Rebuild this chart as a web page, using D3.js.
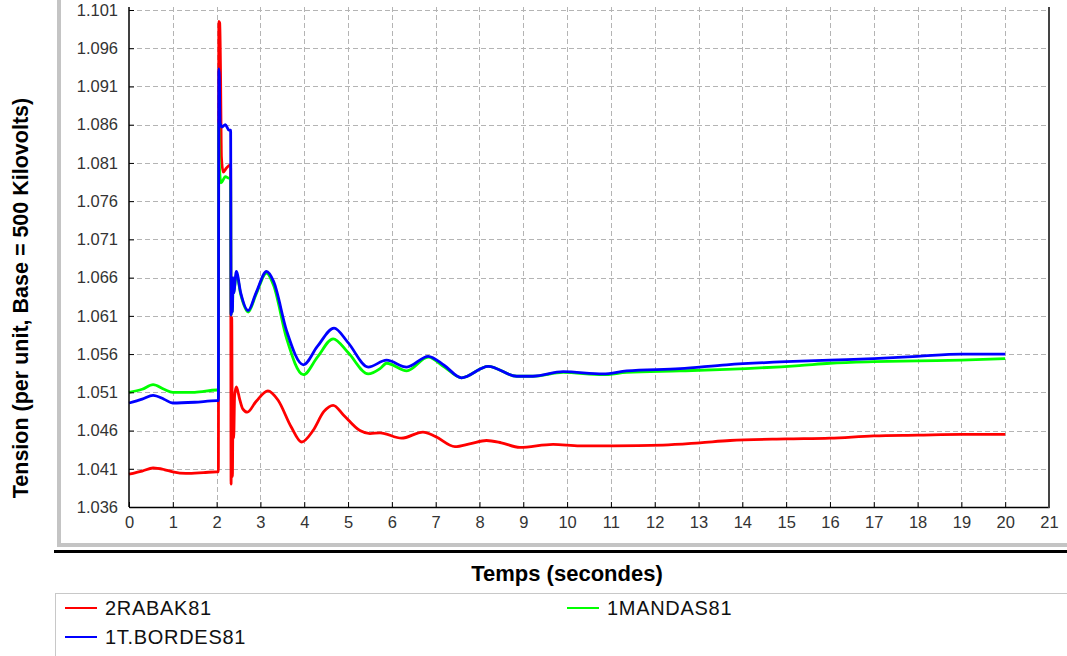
<!DOCTYPE html>
<html>
<head>
<meta charset="utf-8">
<script src="https://cdn.jsdelivr.net/npm/d3@7"></script>
<style>
  html, body { margin: 0; padding: 0; background: #fff; }
  svg { display: block; }
  text { font-family: "Liberation Sans", Arial, sans-serif; }
</style>
</head>
<body>
<svg id="chart" width="1067" height="656"></svg>
<script>
// ---------- data ----------
const xTicks = [0,1,2,3,4,5,6,7,8,9,10,11,12,13,14,15,16,17,18,19,20,21];
const yTicks = [1.036,1.041,1.046,1.051,1.056,1.061,1.066,1.071,1.076,1.081,1.086,1.091,1.096,1.101];

const rabakT = [0,0.3,0.55,0.8,1.0,1.3,1.7,2.0,2.04,2.05,2.07,2.09,2.1,2.11,2.15,2.22,2.3,2.32,2.33,2.345,2.36,2.375,2.39,2.41,2.45,2.53,2.6,2.7,2.9,3.17,3.4,3.7,3.94,4.2,4.45,4.66,4.9,5.27,5.5,5.73,6.22,6.71,7.0,7.44,7.8,8.16,8.5,8.92,9.68,10.29,11.05,12.19,13.03,13.72,15,16,17,18,19,20];
const rabakV = [1.0403,1.0407,1.0411,1.0409,1.0406,1.0404,1.0405,1.0406,1.0406,1.0995,1.0993,1.0925,1.0862,1.0818,1.0798,1.0803,1.0807,1.0807,1.0390,1.0608,1.0400,1.0500,1.0450,1.0505,1.0517,1.0500,1.0488,1.0484,1.0498,1.0512,1.0500,1.0465,1.0445,1.0460,1.0485,1.0493,1.0480,1.0460,1.0456,1.0457,1.0450,1.0458,1.0452,1.0439,1.0443,1.0447,1.0444,1.0438,1.0442,1.0440,1.0440,1.0441,1.0444,1.0447,1.0449,1.0450,1.0453,1.0454,1.0455,1.0455];

const bordesT = [0,0.3,0.55,0.8,1.0,1.5,2.0,2.04,2.05,2.06,2.08,2.12,2.2,2.28,2.32,2.33,2.345,2.36,2.375,2.39,2.45,2.55,2.72,2.9,3.14,3.3,3.6,3.98,4.3,4.68,5.0,5.46,5.88,6.34,6.83,7.2,7.59,8.2,8.85,9.22,9.91,10.82,11.36,12.58,13.64,15,16,17,18,19,20];
const bordesV = [1.0496,1.0501,1.0506,1.0501,1.0496,1.0497,1.0499,1.0499,1.0933,1.0925,1.0862,1.0857,1.0860,1.0853,1.0853,1.0611,1.0660,1.0615,1.0660,1.0640,1.0668,1.0640,1.0617,1.0640,1.0668,1.0655,1.0590,1.0546,1.0570,1.0594,1.0575,1.0543,1.0552,1.0543,1.0557,1.0545,1.0529,1.0544,1.0531,1.0531,1.0537,1.0534,1.0538,1.0541,1.0546,1.0550,1.0552,1.0554,1.0557,1.0560,1.0560];

const mandasT = [0,0.3,0.55,0.8,1.0,1.5,2.0,2.04,2.05,2.06,2.1,2.2,2.28,2.32,2.33,2.345,2.36,2.375,2.39,2.45,2.55,2.72,2.9,3.14,3.3,3.6,3.98,4.3,4.66,5.0,5.46,5.73,5.88,6.34,6.83,7.2,7.59,8.2,8.85,9.22,9.91,10.82,11.36,12.58,13.64,15.3,16,17,18,19,20];
const mandasV = [1.0510,1.0514,1.0520,1.0514,1.0510,1.0510,1.0513,1.0513,1.0862,1.0810,1.0784,1.0792,1.0790,1.0790,1.0611,1.0655,1.0615,1.0655,1.0640,1.0665,1.0638,1.0615,1.0638,1.0666,1.0650,1.0580,1.0533,1.0556,1.0580,1.0562,1.0534,1.0541,1.0548,1.0538,1.0556,1.0543,1.0529,1.0544,1.0531,1.0531,1.0536,1.0533,1.0536,1.0538,1.0540,1.0545,1.0548,1.0550,1.0551,1.0552,1.0554];

const seriesNames = ["2RABAK81", "1MANDAS81", "1T.BORDES81"];
const seriesColors = ["#ff0000", "#00ff00", "#0000ff"];

// ---------- layout ----------
const svg = d3.select("#chart");
const L = 129, R = 1049, T = 10, B = 507;
const x = d3.scaleLinear().domain([0, 21]).range([L, R]);
const y = d3.scaleLinear().domain([1.036, 1.101]).range([B, T]);

// frame decorations
svg.append("rect").attr("x", 57).attr("y", 0).attr("width", 4).attr("height", 547).attr("fill", "#c4c4c4");
svg.append("rect").attr("x", 57).attr("y", 543).attr("width", 1010).attr("height", 4).attr("fill", "#c4c4c4");
svg.append("rect").attr("x", 54).attr("y", 550).attr("width", 1013).attr("height", 3).attr("fill", "#000");

// grid
const grid = svg.append("g").attr("stroke", "#b4b4b4").attr("stroke-width", 1).attr("stroke-dasharray", "5,3");
grid.selectAll("line.v").data(xTicks.filter(d => d > 0)).join("line")
  .attr("x1", d => Math.round(x(d)) + 0.5).attr("x2", d => Math.round(x(d)) + 0.5)
  .attr("y1", T - 3).attr("y2", B);
grid.selectAll("line.h").data(yTicks.filter(d => d > 1.036)).join("line")
  .attr("x1", L).attr("x2", R)
  .attr("y1", d => Math.round(y(d)) + 0.5).attr("y2", d => Math.round(y(d)) + 0.5);

// series
const line = d3.line().x(d => x(d[0])).y(d => y(d[1])).curve(d3.curveMonotoneX);
const drawOrder = [
  {t: rabakT, v: rabakV, c: seriesColors[0]},
  {t: mandasT, v: mandasV, c: seriesColors[1]},
  {t: bordesT, v: bordesV, c: seriesColors[2]}
];
drawOrder.forEach(s => {
  const pts = s.t.map((t, i) => [t, s.v[i]]);
  svg.append("path").datum(pts).attr("d", line)
    .attr("fill", "none").attr("stroke", s.c).attr("stroke-width", 2.8)
    .attr("stroke-linejoin", "miter").attr("stroke-miterlimit", 2);
});

// axes
const xAxis = d3.axisBottom(x).tickValues(xTicks).tickFormat(d3.format("d")).tickSizeInner(-5).tickSizeOuter(0).tickPadding(9);
const yAxis = d3.axisLeft(y).tickValues(yTicks).tickFormat(d3.format(".3f")).tickSizeInner(-5).tickSizeOuter(0).tickPadding(11);
const gx = svg.append("g").attr("transform", `translate(0,${B})`).call(xAxis);
const gy = svg.append("g").attr("transform", `translate(${L},0)`).call(yAxis);
[gx, gy].forEach(g => {
  g.select(".domain").attr("stroke", "#000").attr("stroke-width", 1.5);
  g.selectAll(".tick line").attr("stroke", "#000");
  g.selectAll(".tick text").attr("fill", "#333").style("font-size", "16.5px");
});
gy.select(".domain").attr("d", `M0,${T - 3}V${B}`);
// right border
svg.append("line").attr("x1", R).attr("x2", R).attr("y1", 7).attr("y2", B + 1)
  .attr("stroke", "#444").attr("stroke-width", 2);

// axis titles
svg.append("text").attr("x", 567).attr("y", 581).attr("text-anchor", "middle")
  .style("font-size", "22px").style("font-weight", "bold").attr("fill", "#000")
  .text("Temps (secondes)");
svg.append("text").attr("transform", "translate(28,298) rotate(-90)").attr("text-anchor", "middle")
  .style("font-size", "21.5px").style("font-weight", "bold").attr("fill", "#000")
  .text("Tension (per unit, Base = 500 Kilovolts)");

// legend
svg.append("line").attr("x1", 55).attr("x2", 1067).attr("y1", 593.5).attr("y2", 593.5).attr("stroke", "#c8c8c8");
svg.append("line").attr("x1", 55.5).attr("x2", 55.5).attr("y1", 593).attr("y2", 656).attr("stroke", "#c8c8c8");
const legendPos = [[65, 608], [567, 608], [65, 637]];
seriesNames.forEach((n, i) => {
  const [lx, ly] = legendPos[i];
  svg.append("line").attr("x1", lx).attr("x2", lx + 32).attr("y1", ly).attr("y2", ly)
    .attr("stroke", seriesColors[i]).attr("stroke-width", 2);
  svg.append("text").attr("x", lx + 40).attr("y", ly + 7).style("font-size", "20px")
    .style("letter-spacing", "0.7px").attr("fill", "#111").text(n);
});
</script>
</body>
</html>
